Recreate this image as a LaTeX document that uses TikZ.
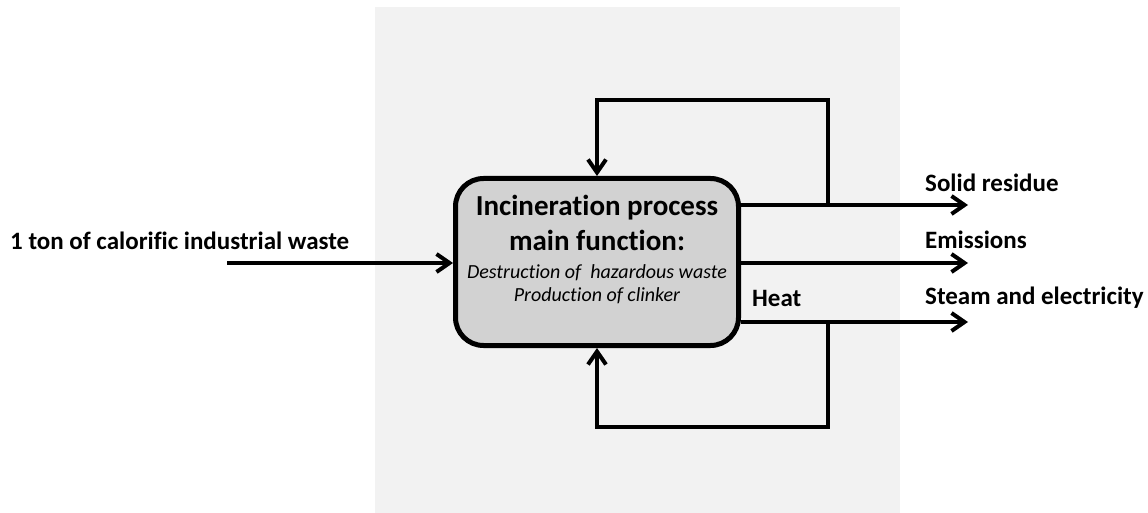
\documentclass[tikz,border=0pt]{standalone}
\usepackage{fontspec}
\setmainfont{Carlito}[Ligatures=NoCommon]
\usetikzlibrary{arrows.meta}
\definecolor{panelgray}{RGB}{242,242,242}
\definecolor{boxgray}{RGB}{210,210,210}
\begin{document}
\begin{tikzpicture}[x=1pt,y=-1pt,
  arr/.style={line width=4pt, line join=miter, -{Straight Barb[length=13pt,width=18pt,line width=4pt]}},
  lbl/.style={font=\fontsize{25}{30}\selectfont\bfseries, inner sep=0pt, anchor=west},
  procbox/.style={draw, line width=5pt, fill=boxgray, rounded corners=28pt, minimum width=283pt, minimum height=167pt}]
\useasboundingbox (0,0) rectangle (1148,513);
\fill[panelgray] (375,7) rectangle (900,513);
\node[procbox] (box) at (597,262) {};
\node[font=\fontsize{29}{35}\selectfont\bfseries, align=center, inner sep=0pt] (title) at (597,223) {Incineration process\\main function:};
\node[font=\fontsize{20}{23}\selectfont\itshape, align=center, inner sep=0pt] (sub) at (597,284) {Destruction of\ \ hazardous waste\\Production of clinker};
% input
\node[lbl] (inlbl) at (10,241) {1 ton of calorific industrial waste};
\coordinate (in) at (227,263);
\draw[arr] (in) -- (box.west |- in);
% outputs
\coordinate (o1) at (968,205);
\coordinate (o2) at (968,263);
\coordinate (o3) at (968,322);
\draw[arr] (box.east |- o1) -- (o1);
\draw[arr] (box.east |- o2) -- (o2);
\draw[arr] (box.east |- o3) -- (o3);
\node[lbl] (l1) at (925,183) {Solid residue};
\node[lbl] (l2) at (925,240) {Emissions};
\node[lbl] (l3) at (925,298) {Steam and electricity};
\node[lbl] (heat) at (752,298) {Heat};
% feedback loops
\coordinate (j1) at (828,205);
\coordinate (t1) at (828,100);
\coordinate (t2) at (597,100);
\draw[arr] (j1) -- (t1) -- (t2) -- (box.north -| t2);
\coordinate (j3) at (828,322);
\coordinate (b1) at (828,427);
\coordinate (b2) at (597,427);
\draw[arr] (j3) -- (b1) -- (b2) -- (box.south -| b2);
\end{tikzpicture}
\end{document}
